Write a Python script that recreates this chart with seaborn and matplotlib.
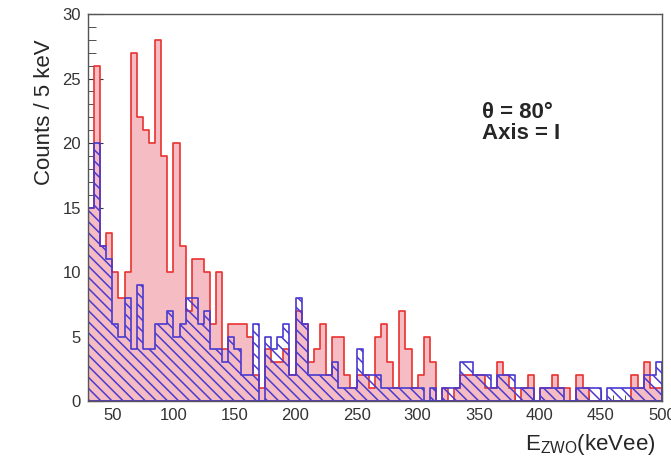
import numpy as np
import pandas as pd
import matplotlib
import matplotlib.pyplot as plt
import seaborn as sns
from matplotlib.ticker import MultipleLocator

matplotlib.use('Agg')

# 5 keV bins from 30 to 500 keVee
bin_edges = list(range(30, 505, 5))

red_counts = [15, 26, 12, 13, 10, 8, 10, 27, 22, 21,
              20, 28, 19, 10, 20, 12, 7, 11, 11, 10,
              6, 10, 4, 6, 6, 6, 5, 2, 1, 4,
              3, 3, 4, 2, 7, 6, 3, 4, 6, 2,
              5, 5, 2, 1, 2, 2, 1, 5, 6, 3,
              1, 7, 4, 1, 2, 5, 3, 0, 1, 0,
              1, 2, 2, 2, 2, 1, 1, 3, 2, 1,
              0, 1, 2, 0, 1, 1, 2, 1, 1, 0,
              2, 1, 0, 0, 0, 0, 0, 0, 0, 2,
              1, 3, 1, 1]

blue_counts = [15, 20, 12, 11, 6, 5, 8, 4, 9, 4,
               4, 6, 6, 7, 5, 6, 8, 8, 6, 7,
               4, 4, 3, 5, 4, 2, 2, 6, 0, 5,
               4, 5, 6, 2, 8, 6, 2, 2, 2, 2,
               3, 1, 1, 1, 4, 2, 2, 2, 1, 1,
               1, 1, 1, 1, 1, 0, 1, 0, 1, 1,
               1, 3, 3, 2, 2, 2, 1, 2, 2, 2,
               1, 1, 1, 0, 1, 1, 1, 1, 0, 0,
               1, 1, 1, 1, 0, 1, 1, 1, 1, 1,
               1, 2, 2, 3]

df = pd.DataFrame({
    'E': [(a + b) / 2 for a, b in zip(bin_edges[:-1], bin_edges[1:])],
    'red': red_counts,
    'blue': blue_counts,
})

sns.set_style('ticks')
plt.rcParams['font.family'] = ['Liberation Sans', 'DejaVu Sans']
plt.rcParams['mathtext.fontset'] = 'custom'
plt.rcParams['mathtext.rm'] = 'Liberation Sans'
plt.rcParams['mathtext.it'] = 'Liberation Sans:italic'
plt.rcParams['mathtext.bf'] = 'Liberation Sans:bold'
plt.rcParams['hatch.linewidth'] = 1.1

fig = plt.figure(figsize=(6.71, 4.67), dpi=100)
ax = fig.add_axes([0.131, 0.1413, 0.8555, 0.8287])

sns.histplot(data=df, x='E', weights='red', bins=bin_edges, element='step', fill=True,
             color='#e8322f', facecolor='#f6bcc4', edgecolor='#e8322f', linewidth=1.2, ax=ax)
sns.histplot(data=df, x='E', weights='blue', bins=bin_edges, element='step', fill=True,
             color='#3a3ad8', facecolor='none', edgecolor='#4a3ad0', hatch='\\\\\\',
             linewidth=1.2, ax=ax)

ax.set_xlim(30, 500)
ax.set_ylim(0, 30)
ax.xaxis.set_major_locator(MultipleLocator(50))
ax.xaxis.set_minor_locator(MultipleLocator(10))
ax.yaxis.set_major_locator(MultipleLocator(5))
ax.yaxis.set_minor_locator(MultipleLocator(1))
ax.tick_params(axis='both', which='both', direction='in', colors='#333333', labelsize=12)
ax.tick_params(axis='y', which='major', length=11, pad=5)
ax.tick_params(axis='y', which='minor', length=5.5)
ax.tick_params(axis='x', which='major', length=8, pad=5)
ax.tick_params(axis='x', which='minor', length=4)
for sp in ax.spines.values():
    sp.set_color('#555555')
    sp.set_linewidth(1.0)

ax.set_ylabel('Counts / 5 keV', fontsize=16, loc='top')
ax.yaxis.set_label_coords(-0.057, 0.935)
ax.set_xlabel(r'E$_{\mathrm{ZWO}}$(keVee)', fontsize=16, loc='right')
ax.xaxis.set_label_coords(0.988, -0.08)

ax.text(0.686, 0.745, 'θ = 80°', transform=ax.transAxes, fontsize=16,
        fontweight='bold', va='center')
ax.text(0.686, 0.69, 'Axis = I', transform=ax.transAxes, fontsize=16,
        fontweight='bold', va='center')

fig.savefig('out.png', dpi=100)
plt.close()
